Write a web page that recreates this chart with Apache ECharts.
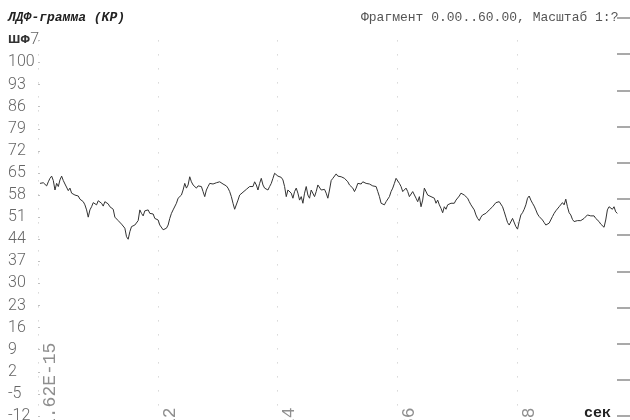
<!DOCTYPE html>
<html>
<head>
<meta charset="utf-8">
<script src="https://cdn.jsdelivr.net/npm/echarts/dist/echarts.min.js"></script>
<style>
  html, body { margin: 0; padding: 0; background: #fff; }
  #chart { width: 630px; height: 420px; }
</style>
</head>
<body>
<div id="chart"></div>
<script>
// LDF perfusion trace, one sample every 1/6 s starting at 0.2 s
const startTime = 0.2;
const sampleStep = 1 / 6;
const perfusion = [
  61.7,61.2,61.9,61.5,60.9,62.2,63.3,64.0,62.6,59.6,61.7,60.7,62.8,64.0,62.6,61.5,61.9,59.4,60.2,58.6,
  59.1,58.0,57.5,57.7,56.7,57.0,55.9,54.9,53.3,51.0,53.3,54.3,55.6,55.9,54.9,56.2,56.7,55.4,54.5,55.9,
  56.2,55.2,54.3,54.9,53.5,51.0,51.4,49.9,50.3,48.8,48.2,47.5,44.8,44.0,46.4,48.0,47.5,48.5,49.1,49.9,
  53.3,52.2,51.4,53.0,52.7,53.3,52.2,51.7,52.0,50.6,51.0,50.1,48.5,48.0,47.0,46.4,47.5,48.5,50.6,52.2,
  53.3,53.8,55.4,57.0,56.4,58.0,59.6,61.7,60.2,61.2,63.8,62.2,61.2,61.7,60.2,60.9,61.5,60.7,59.1,57.5,
  59.6,60.7,61.7,62.2,61.5,61.2,61.9,62.2,
  62.2,61.9,61.5,61.2,60.9,60.2,59.1,57.5,55.4,53.5,53.3,56.4,58.0,58.6,58.9,59.1,59.8,60.2,60.7,61.2,
  60.7,62.2,61.2,59.6,61.7,63.3,61.2,60.2,60.7,59.6,60.7,61.7,63.3,64.9,64.7,64.0,64.4,63.6,62.8,60.7,
  57.5,59.6,60.2,58.6,57.0,59.1,60.2,58.6,56.4,57.5,55.4,58.6,60.7,58.0,57.0,59.6,60.2,57.5,59.1,61.2,
  61.7,59.6,59.1,59.8,58.6,57.0,59.6,62.6,63.3,63.8,64.7,64.0,64.4,63.8,64.4,63.3,63.6,62.2,61.2,61.7,
  60.2,59.1,60.2,61.7,62.2,61.5,62.2,62.6,61.7,61.9,61.5,61.2,60.9,60.5,60.7,59.1,57.5,55.4,55.6,54.9,
  55.9,55.4,57.5,59.1,60.2,61.7,63.3,63.8,61.7,60.7,59.1,59.6,60.2,59.1,57.5,58.0,59.1,58.6,57.0,55.9,
  57.5,
  54.3,56.4,60.2,59.6,58.0,57.7,57.5,57.3,57.0,55.4,56.4,54.9,53.8,52.4,54.3,53.5,54.9,54.5,55.4,55.6,
  55.4,56.4,57.0,57.7,58.6,58.8,58.0,58.6,57.0,55.9,54.9,54.3,53.3,51.7,50.6,49.9,51.0,51.7,52.0,52.2,
  52.7,53.3,53.5,54.3,54.9,55.6,55.9,55.9,55.6,54.3,52.7,51.0,49.3,48.5,49.1,50.6,50.1,48.0,47.2,49.6,
  51.7,52.4,53.5,54.9,57.0,57.7,56.4,55.4,54.5,53.3,52.0,51.2,50.6,50.1,49.3,48.5,48.2,49.1,49.6,51.2,
  52.2,53.0,53.5,54.3,54.9,55.6,54.9,56.7,54.3,52.4,51.7,50.3,49.6,49.6,49.9,49.6,49.9,50.1,50.6,50.3,
  51.7,52.0,51.4,51.0,51.4,50.6,50.1,49.6,48.8,48.2,47.8,50.1,53.3,54.3,54.9,53.5,54.3,52.7,52.2
];

// Axis ticks and their printed labels
const timeTicks = [0, 12, 24, 36, 48, 60];
const timeTickLabels = ['1.62E-15', '12', '24', '36', '48', '60'];
const perfusionTicks = [107, 100, 93, 86, 79, 72, 65, 58, 51, 44, 37, 30, 23, 16, 9, 2, -5, -12];
const perfusionTickLabels = ['{b|ШФ}7', '100', '93', '86', '79', '72', '65', '58', '51', '44',
  '37', '30', '23', '16', '9', '2', '-5', '-12'];

// Header and unit texts
const headerTitle = 'ЛДФ-грамма (КР)';
const headerFragment = 'Фрагмент 0.00..60.00, Масштаб 1:?';
const timeUnit = 'сек';

// Divisions of the ruler along the right edge
const rulerDivisions = 11;

const points = perfusion.map((v, i) => [startTime + i * sampleStep, v]);

const chart = echarts.init(document.getElementById('chart'), null, { renderer: 'canvas' });

chart.setOption({
  backgroundColor: '#ffffff',
  animation: false,
  title: [
    {
      text: headerTitle, left: 8, top: 11, padding: 0,
      textStyle: { fontFamily: 'Liberation Mono', fontSize: 13, fontWeight: 'bold', fontStyle: 'italic', color: '#222' }
    },
    {
      text: headerFragment, left: 361, top: 11, padding: 0,
      textStyle: { fontFamily: 'Liberation Mono', fontSize: 13, fontWeight: 'normal', color: '#555' }
    },
    {
      text: timeUnit, left: 584, top: 406, padding: 0,
      textStyle: { fontFamily: 'Liberation Mono', fontSize: 15, fontWeight: 'bold', color: '#222' }
    }
  ],
  grid: [
    { left: 38, top: 40.4, width: 599, height: 375.6, containLabel: false, outerBoundsMode: 'none' },
    { left: 617, top: 18, width: 13, height: 398, containLabel: false, outerBoundsMode: 'none' }
  ],
  xAxis: [
    {
      type: 'value', gridIndex: 0, min: 0, max: 60, interval: 12,
      axisLine: { show: false },
      axisTick: { show: false },
      splitLine: { show: true, lineStyle: { color: '#c4c4c4', width: 1, type: [1, 13] } },
      axisLabel: {
        rotate: 90, align: 'left', verticalAlign: 'top', margin: 13, padding: [3, 0, 0, 0],
        fontFamily: 'Liberation Mono', fontSize: 18, color: '#8f8f8f',
        formatter: (v) => { const k = timeTicks.indexOf(v); return k >= 0 ? timeTickLabels[k] : ''; }
      }
    },
    { type: 'value', gridIndex: 1, show: false, min: 0, max: 1 }
  ],
  yAxis: [
    {
      type: 'value', gridIndex: 0, min: -12, max: 107,
      axisLine: { show: false },
      axisTick: { show: true, inside: true, length: 2, customValues: perfusionTicks, lineStyle: { color: '#c0c0c0' } },
      splitLine: { show: false },
      axisLabel: {
        customValues: perfusionTicks,
        align: 'left', margin: 30, verticalAlign: 'middle',
        fontFamily: 'Roboto', fontWeight: 300, fontSize: 16, color: '#666',
        formatter: (v) => { const k = perfusionTicks.indexOf(v); return k >= 0 ? perfusionTickLabels[k] : ''; },
        rich: {
          b: { fontFamily: 'DejaVu Sans', fontWeight: 'bold', fontSize: 10, color: '#333' }
        }
      }
    },
    {
      type: 'value', gridIndex: 1, min: 0, max: rulerDivisions, interval: 1,
      axisLine: { show: false }, axisTick: { show: false }, axisLabel: { show: false },
      splitLine: { show: true, lineStyle: { color: '#8c8c8c', width: 1.5 } }
    }
  ],
  series: [
    {
      type: 'line', xAxisIndex: 0, yAxisIndex: 0,
      data: points, showSymbol: false, symbol: 'none',
      lineStyle: { color: '#333333', width: 1 },
      silent: true
    }
  ]
});
</script>
</body>
</html>
